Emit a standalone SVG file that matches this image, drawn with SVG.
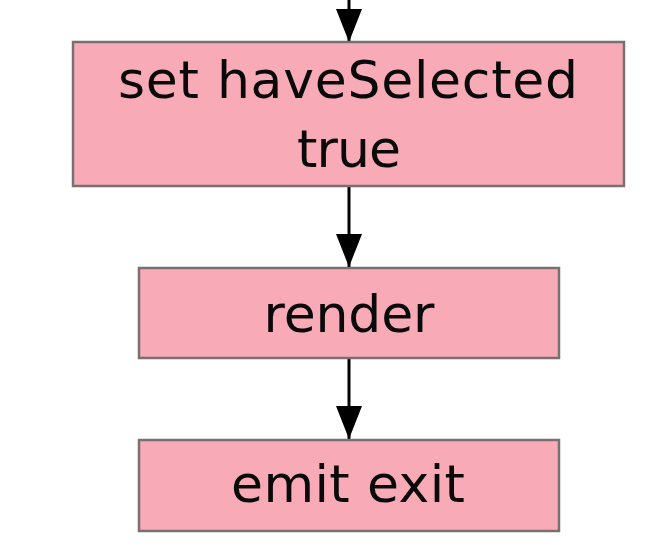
<svg xmlns="http://www.w3.org/2000/svg" width="655" height="560" viewBox="0 0 655 560">
  <defs>
    <style>
      .box { fill: #f8abb6; stroke: #7a7072; stroke-width: 2.5; }
      .lbl { font-family: "DejaVu Sans", "Liberation Sans", sans-serif; font-size: 52px; fill: #0a0a0a; text-anchor: middle; }
      .edge { stroke: #000; stroke-width: 3; fill: none; marker-end: url(#arrow); }
    </style>
    <marker id="arrow" markerUnits="userSpaceOnUse" markerWidth="34" markerHeight="28" viewBox="0 0 34 28" refX="33" refY="14" orient="auto">
      <path d="M0,1 L33,14 L0,27 Z" fill="#000"/>
    </marker>
  </defs>
  <rect width="655" height="560" fill="#ffffff"/>
  <g id="connectors">
    <path class="edge" d="M349,0 L349,42"/>
    <path class="edge" d="M349,187 L349,267"/>
    <path class="edge" d="M349,359 L349,439"/>
  </g>
  <g id="node-set-haveSelected">
    <rect class="box" x="73" y="42" width="551" height="144"/>
    <text class="lbl" x="348" y="98" textLength="460">set haveSelected</text>
    <text class="lbl" x="349" y="167" textLength="104">true</text>
  </g>
  <g id="node-render">
    <rect class="box" x="139" y="268" width="420" height="90"/>
    <text class="lbl" x="349" y="332" textLength="171">render</text>
  </g>
  <g id="node-emit-exit">
    <rect class="box" x="139" y="440" width="420" height="91"/>
    <text class="lbl" x="348" y="502" textLength="234">emit exit</text>
  </g>
</svg>
